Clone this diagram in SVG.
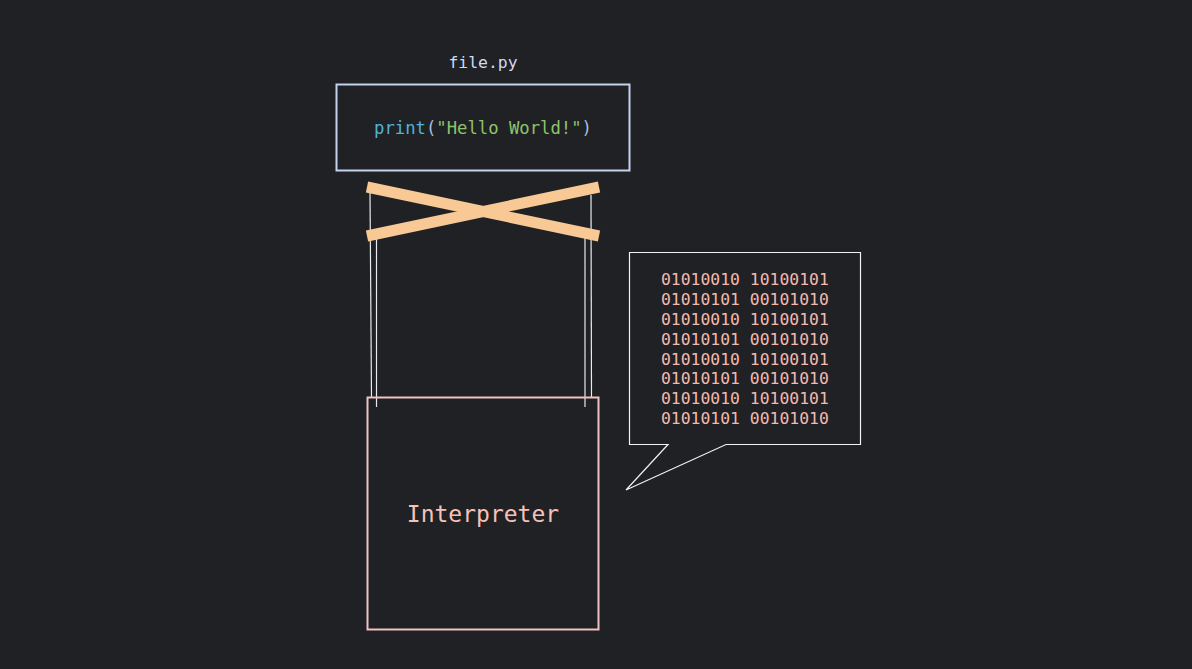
<svg xmlns="http://www.w3.org/2000/svg" width="1192" height="669" viewBox="0 0 1192 669">
<style>
.mono{font-family:"DejaVu Sans Mono","Liberation Mono",monospace}
.bin{fill:#f4b9ad;font-size:16.4px}
.thin{stroke:#e8eaee;stroke-width:1.2;fill:none}
.bar{stroke:#f8c995;stroke-width:11;stroke-linecap:butt}
</style>
<rect width="1192" height="669" fill="#1f2125"/>
<g id="file">
<text class="mono" x="483" y="68" text-anchor="middle" font-size="16.4" fill="#cfdaf2">file.py</text>
<rect x="336.5" y="84.5" width="293" height="86" fill="none" stroke="#c5d2ee" stroke-width="2"/>
<text class="mono" x="374" y="134" font-size="17.3" textLength="218" lengthAdjust="spacingAndGlyphs"><tspan fill="#4fb3d6">print</tspan><tspan fill="#a8bedc">(</tspan><tspan fill="#8fc36a">"Hello World!"</tspan><tspan fill="#a8bedc">)</tspan></text>
</g>
<g id="connectors">
<line class="thin" x1="370" y1="193" x2="371.5" y2="397"/>
<line class="thin" x1="376.5" y1="238" x2="376.5" y2="407"/>
<line class="thin" x1="591" y1="195" x2="591.5" y2="397"/>
<line class="thin" x1="585" y1="238" x2="585" y2="407"/>
</g>
<g id="cross">
<line class="bar" x1="367" y1="187" x2="599" y2="236"/>
<line class="bar" x1="367" y1="236" x2="599" y2="187"/>
</g>
<g id="interpreter">
<rect x="367.5" y="397.5" width="231" height="232" fill="none" stroke="#f0c4c2" stroke-width="2"/>
<text class="mono" x="483" y="522" text-anchor="middle" font-size="23" fill="#f6c2b8">Interpreter</text>
</g>
<g id="bubble">
<path d="M629.5 252.5 H860.5 V444.5 H726 L626 490 L668 444.5 H629.5 Z" fill="#1f2125" stroke="#f2f2f2" stroke-width="1.2"/>
<text class="mono bin" x="661" y="285">01010010 10100101</text>
<text class="mono bin" x="661" y="305">01010101 00101010</text>
<text class="mono bin" x="661" y="325">01010010 10100101</text>
<text class="mono bin" x="661" y="345">01010101 00101010</text>
<text class="mono bin" x="661" y="365">01010010 10100101</text>
<text class="mono bin" x="661" y="384">01010101 00101010</text>
<text class="mono bin" x="661" y="404">01010010 10100101</text>
<text class="mono bin" x="661" y="424">01010101 00101010</text>
</g>
</svg>
